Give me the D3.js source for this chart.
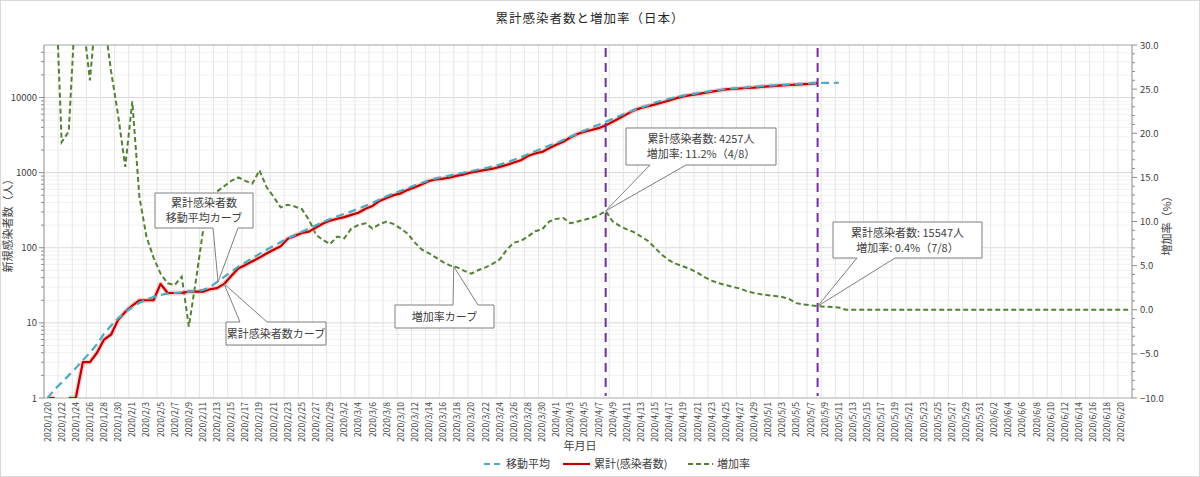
<!DOCTYPE html>
<html>
<head>
<meta charset="utf-8">
<script src="https://cdn.jsdelivr.net/npm/d3@7"></script>
<style>
  body { margin: 0; background: #fff; }
  text { font-family: "Noto Sans CJK JP", "Noto Sans", sans-serif; }
</style>
</head>
<body>
<script>
// categories: one per day, 2020/1/20 .. 2020/6/21
var fmt = d3.timeFormat("%Y/%-m/%-d");
var days = d3.timeDay.range(new Date(2020, 0, 20), new Date(2020, 5, 22)).map(fmt);

// 累計(感染者数)  1/20 .. 5/8
var cumulative = [
  1, 1, null, 1, 1, 3, 3, 4, 6, 7, 11, 14,
  17, 20, 20, 20, 33, 25, 25, 25, 26, 26, 26, 28, 29, 33, 42, 53, 59, 66,
  74, 84, 94, 105, 132, 144, 157, 164, 186, 210, 230,
  243, 256, 274, 293, 331, 360, 420, 461, 502, 530, 590, 639, 701, 773, 814,
  834, 862, 914, 950, 1007, 1046, 1089, 1128, 1193, 1268, 1364, 1463, 1664, 1800, 1887, 2109,
  2344, 2579, 2932, 3271, 3500, 3700, 3906, 4257, 4768, 5347, 6005, 6748, 7255, 7645, 8100,
  8582, 9167, 9795, 10361, 10751, 11119, 11512, 11950, 12388, 12829, 13031, 13182, 13385, 13576, 13852,
  14088, 14281, 14544, 14672, 14839, 15057, 15231, 15547
];

// 移動平均  1/20 .. 5/11
var movingAvg = [
  1.0, 1.3, 1.6, 2.0, 2.5, 3.2, 4.0, 5.2, 7.2, 9.2, 11.5, 13.8,
  16.2, 18.5, 20.5, 22, 23.5, 24.5, 25, 25.5, 26, 26.5, 27.5, 30, 35, 41, 48, 56, 64, 73,
  83, 94, 106, 119, 133, 148, 163, 180, 200, 220, 241,
  262, 282, 305, 332, 362, 398, 440, 485, 530, 575, 625, 680, 735, 790, 840,
  880, 920, 962, 1005, 1050, 1100, 1150, 1210, 1280, 1370, 1480, 1610, 1760, 1920, 2100, 2300,
  2480, 2720, 3000, 3310, 3650, 3980, 4350, 4760, 5200, 5700, 6250, 6800, 7350, 7900, 8600,
  9120, 9640, 10150, 10620, 11050, 11450, 11850, 12230, 12580, 12900, 13180, 13440, 13690, 13930, 14160,
  14380, 14580, 14770, 14950, 15120, 15280, 15420, 15550, 15650, 15700, 15720
];

// 増加率(%)  1/20 .. 6/21
var growthRate = [
  null, 40, 19.0, 20.2, 35, 33, 26.0, 35, 33, 27, 22, 16.2,
  23.6, 12.8, 8.3, 5.9, 4.1, 3.0, 2.8, 3.75, -1.9, 3.3, 8.9, 12.3, 13.4, 14.0, 14.6,
  15.0, 14.6, 14.3, 15.8, 13.9, 12.8, 11.6, 11.9, 11.7, 11.4, 10.2, 8.5, 7.9, 7.45,
  8.3, 8.1, 9.2, 9.6, 9.8, 9.2, 9.7, 10.0, 9.7, 9.2, 8.6, 7.6, 6.8, 6.4, 5.9,
  5.4, 5.0, 4.8, 4.4, 4.1, 4.5, 4.8, 5.2, 5.7, 6.8, 7.6, 7.8, 8.3, 8.9, 9.1, 10.0,
  10.3, 10.4, 9.8, 10.0, 10.2, 10.4, 10.7, 11.2, 10.0, 9.5, 9.1, 8.8, 8.3, 7.8, 7.0,
  6.2, 5.6, 5.2, 4.9, 4.6, 4.2, 3.7, 3.3, 3.0, 2.8, 2.6, 2.4, 2.1, 1.9, 1.75,
  1.65, 1.55, 1.45, 1.2, 0.75, 0.6, 0.5, 0.4, 0.35, 0.3, 0.25, 0,
  0, 0, 0, 0, 0, 0, 0, 0, 0, 0, 0, 0, 0, 0, 0, 0, 0, 0, 0,
  0, 0, 0, 0, 0, 0, 0, 0, 0, 0, 0, 0, 0, 0, 0, 0, 0, 0, 0, 0, 0
];

var leftTicks = [1, 10, 100, 1000, 10000];
var rightTicks = [30, 25, 20, 15, 10, 5, 0, -5, -10];
var markerDays = ["2020/4/8", "2020/5/8"];

var W = 1200, H = 477;
var L = 44, R = 1132, T = 45, B = 398;

var svg = d3.select("body").append("svg")
  .attr("width", W).attr("height", H);

svg.append("rect").attr("x", 0.5).attr("y", 0.5)
  .attr("width", W - 1).attr("height", H - 1)
  .attr("fill", "#fff").attr("stroke", "#d9d9d9");

var x = d3.scaleBand().domain(days).range([L, R]);
var bw = x.bandwidth();
function cx(i) { return x(days[i]) + bw / 2; }

var yL = d3.scaleLog().domain([1, 50000]).range([B, T]);
var yR = d3.scaleLinear().domain([-10, 30]).range([B, T]);

// grid
var grid = svg.append("g");
var minor = [];
leftTicks.forEach(function(d) {
  for (var m = 2; m <= 9; m++) if (d * m < 50000) minor.push(d * m);
});
grid.selectAll(".hmin").data(minor).enter().append("line")
  .attr("x1", L).attr("x2", R)
  .attr("y1", function(d) { return yL(d); }).attr("y2", function(d) { return yL(d); })
  .attr("stroke", "#f2f2f2");
grid.selectAll(".hmaj").data(leftTicks).enter().append("line")
  .attr("x1", L).attr("x2", R)
  .attr("y1", function(d) { return yL(d); }).attr("y2", function(d) { return yL(d); })
  .attr("stroke", "#d9d9d9");
var vgrid = days.filter(function(d, i) { return i % 2 == 0 && i > 0; });
grid.selectAll(".v").data(vgrid).enter().append("line")
  .attr("x1", function(d) { return x(d); }).attr("x2", function(d) { return x(d); })
  .attr("y1", T).attr("y2", B)
  .attr("stroke", "#e6e6e6");

// frame
svg.append("line").attr("x1", L).attr("x2", R).attr("y1", T).attr("y2", T)
  .attr("stroke", "#a6a6a6").attr("stroke-width", 1.2);
svg.append("line").attr("x1", L).attr("x2", R).attr("y1", B).attr("y2", B)
  .attr("stroke", "#bfbfbf");

// left axis
var la = svg.append("g");
la.append("line").attr("x1", L).attr("x2", L).attr("y1", T).attr("y2", B).attr("stroke", "#8c8c8c");
la.selectAll(".mt").data(minor).enter().append("line")
  .attr("x1", L - 3).attr("x2", L)
  .attr("y1", function(d) { return yL(d); }).attr("y2", function(d) { return yL(d); })
  .attr("stroke", "#8c8c8c");
la.selectAll(".Mt").data(leftTicks).enter().append("line")
  .attr("x1", L - 5).attr("x2", L)
  .attr("y1", function(d) { return yL(d); }).attr("y2", function(d) { return yL(d); })
  .attr("stroke", "#8c8c8c");
la.selectAll("text").data(leftTicks).enter().append("text")
  .attr("x", L - 7).attr("y", function(d) { return yL(d) + 3.5; })
  .attr("text-anchor", "end").attr("font-size", 9.5).attr("fill", "#404040")
  .text(function(d) { return d; });
svg.append("text")
  .attr("transform", "translate(12,223) rotate(-90)")
  .attr("text-anchor", "middle").attr("font-size", 11).attr("fill", "#404040")
  .text("新規感染者数（人）");

// right axis
var ra = svg.append("g");
ra.append("line").attr("x1", R).attr("x2", R).attr("y1", T).attr("y2", B).attr("stroke", "#8c8c8c");
ra.selectAll(".mt").data(d3.range(-10, 31, 1)).enter().append("line")
  .attr("x1", R).attr("x2", function(d) { return d % 5 == 0 ? R + 5 : R + 3; })
  .attr("y1", function(d) { return yR(d); }).attr("y2", function(d) { return yR(d); })
  .attr("stroke", "#8c8c8c");
ra.selectAll("text").data(rightTicks).enter().append("text")
  .attr("x", R + 8).attr("y", function(d) { return yR(d) + 3.5; })
  .attr("font-size", 9.5).attr("fill", "#404040")
  .text(function(d) { return d3.format(".1f")(d); });
svg.append("text")
  .attr("transform", "translate(1171,223) rotate(-90)")
  .attr("text-anchor", "middle").attr("font-size", 11).attr("fill", "#404040")
  .text("増加率（%）");

// x axis labels
svg.append("g").selectAll("text")
  .data(days.filter(function(d, i) { return i % 2 == 0; }))
  .enter().append("text")
  .attr("transform", function(d) { return "translate(" + (x(d) + bw / 2 + 3) + "," + (B + 4) + ") rotate(-90)"; })
  .attr("text-anchor", "end").attr("font-size", 8.5).attr("fill", "#404040")
  .text(function(d) { return d; });
svg.append("text").attr("x", 580).attr("y", 450)
  .attr("text-anchor", "middle").attr("font-size", 11).attr("fill", "#404040")
  .text("年月日");

// title
svg.append("text").attr("x", 590).attr("y", 23)
  .attr("text-anchor", "middle").attr("font-size", 12.5).attr("fill", "#262626")
  .attr("letter-spacing", 1)
  .text("累計感染者数と増加率（日本）");

// series
svg.append("clipPath").attr("id", "plot").append("rect")
  .attr("x", L).attr("y", T).attr("width", R - L).attr("height", B - T);
var plot = svg.append("g").attr("clip-path", "url(#plot)");

var lineL = d3.line()
  .defined(function(d) { return d != null; })
  .x(function(d, i) { return cx(i); })
  .y(function(d) { return yL(d); });
var lineR = d3.line()
  .defined(function(d) { return d != null; })
  .x(function(d, i) { return cx(i); })
  .y(function(d) { return yR(d); });

plot.append("path").attr("d", lineR(growthRate))
  .attr("fill", "none").attr("stroke", "#548235").attr("stroke-width", 2)
  .attr("stroke-dasharray", "5,3");
plot.append("path").attr("d", lineL(cumulative))
  .attr("fill", "none").attr("stroke", "#f4a6a6").attr("stroke-width", 5)
  .attr("stroke-opacity", 0.55).attr("stroke-linejoin", "round");
plot.append("path").attr("d", lineL(cumulative))
  .attr("fill", "none").attr("stroke", "#c00000").attr("stroke-width", 2.2)
  .attr("stroke-linejoin", "round");
plot.append("path").attr("d", lineL(movingAvg))
  .attr("fill", "none").attr("stroke", "#4bacc6").attr("stroke-width", 2.2)
  .attr("stroke-dasharray", "8,5");

// marker lines
svg.selectAll(".mk").data(markerDays).enter().append("line")
  .attr("x1", function(d) { return x(d) + bw / 2; }).attr("x2", function(d) { return x(d) + bw / 2; })
  .attr("y1", T + 3).attr("y2", B - 2)
  .attr("stroke", "#7030a0").attr("stroke-width", 2).attr("stroke-dasharray", "9,6");

// callouts
function callout(b, side, a1, a2, tip, lines) {
  var p;
  if (side == "bottom") {
    p = "M" + b[0] + "," + b[1] + "H" + b[2] + "V" + b[3] + "H" + a2 + "L" + tip[0] + "," + tip[1] +
        "L" + a1 + "," + b[3] + "H" + b[0] + "Z";
  } else {
    p = "M" + b[0] + "," + b[1] + "H" + a1 + "L" + tip[0] + "," + tip[1] + "L" + a2 + "," + b[1] +
        "H" + b[2] + "V" + b[3] + "H" + b[0] + "Z";
  }
  svg.append("path").attr("d", p).attr("fill", "#fff").attr("stroke", "#7f7f7f").attr("stroke-width", 1);
  var mid = (b[0] + b[2]) / 2, h = b[3] - b[1];
  var y0 = b[1] + h / 2 - (lines.length - 1) * 7.5 + 4;
  lines.forEach(function(t, k) {
    svg.append("text").attr("x", mid).attr("y", y0 + k * 15)
      .attr("text-anchor", "middle").attr("font-size", 11).attr("fill", "#404040").text(t);
  });
}
var i48 = days.indexOf("2020/4/8"), i58 = days.indexOf("2020/5/8");
callout([155, 193, 253, 228], "bottom", 213, 238, [cx(24) + 1, yL(movingAvg[24])], ["累計感染者数", "移動平均カーブ"]);
callout([226, 322, 326, 345], "top", 240, 267, [cx(25), yL(cumulative[25])], ["累計感染者数カーブ"]);
callout([395, 305, 494, 328], "top", 453, 478, [(cx(57) + cx(58)) / 2, yR((growthRate[57] + growthRate[58]) / 2)], ["増加率カーブ"]);
callout([626, 128, 776, 165], "bottom", 650, 686, [cx(i48), yR(growthRate[i48])], ["累計感染者数: 4257人", "増加率: 11.2%（4/8）"]);
callout([833, 222, 982, 258], "bottom", 857, 895, [cx(i58), yR(growthRate[i58])], ["累計感染者数: 15547人", "増加率: 0.4%（7/8）"]);

// legend
var lg = svg.append("g").attr("font-size", 11).attr("fill", "#404040");
lg.append("line").attr("x1", 484).attr("x2", 502).attr("y1", 464).attr("y2", 464)
  .attr("stroke", "#4bacc6").attr("stroke-width", 2.2).attr("stroke-dasharray", "6,4");
lg.append("text").attr("x", 506).attr("y", 468).text("移動平均");
lg.append("line").attr("x1", 563).attr("x2", 590).attr("y1", 464).attr("y2", 464)
  .attr("stroke", "#c00000").attr("stroke-width", 2.2);
lg.append("text").attr("x", 594).attr("y", 468).text("累計(感染者数)");
lg.append("line").attr("x1", 688).attr("x2", 713).attr("y1", 464).attr("y2", 464)
  .attr("stroke", "#548235").attr("stroke-width", 2).attr("stroke-dasharray", "5,3");
lg.append("text").attr("x", 717).attr("y", 468).text("増加率");
</script>
</body>
</html>
